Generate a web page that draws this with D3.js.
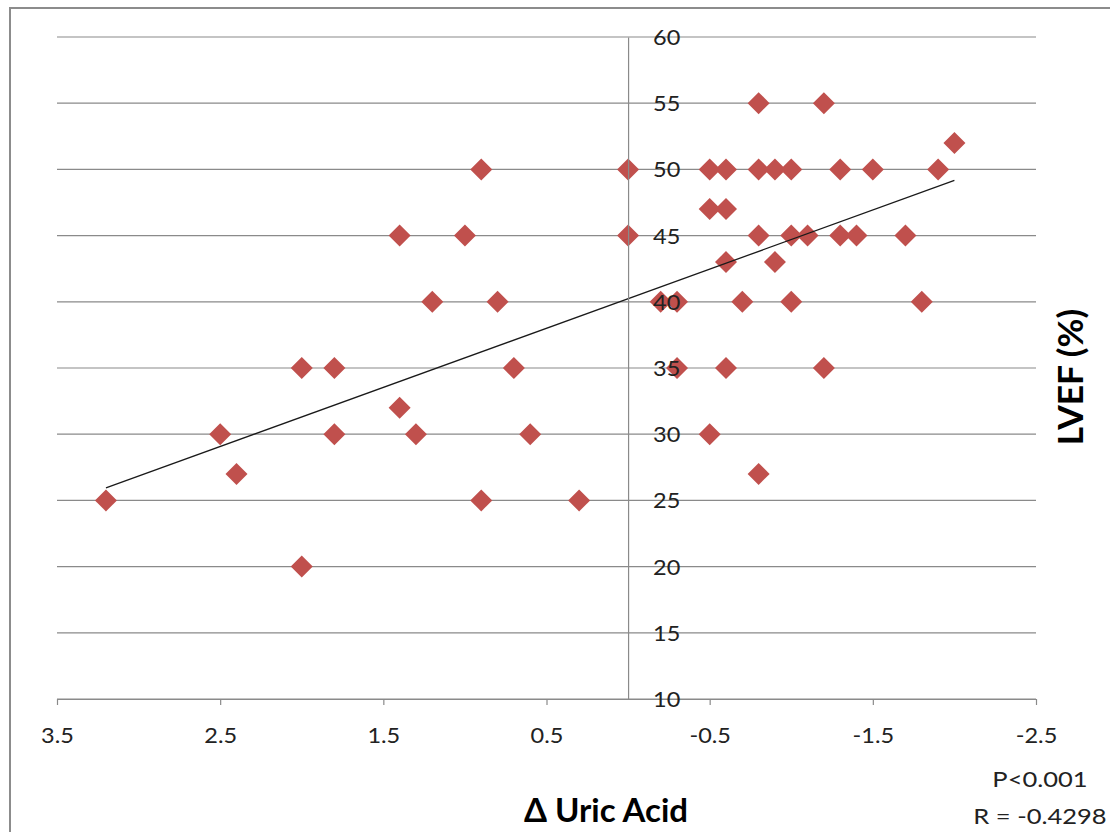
<!DOCTYPE html>
<html>
<head>
<meta charset="utf-8">
<script src="https://cdn.jsdelivr.net/npm/d3@7.9.0/dist/d3.min.js"></script>
<style>
  html, body { margin: 0; padding: 0; background: #fff; }
  svg { display: block; font-family: Lato, "Open Sans", sans-serif; }
</style>
</head>
<body>
<svg id="chart" width="1110" height="832"></svg>
<script>
// Δ uric acid (x) and LVEF % (y)
const uricDelta = [
  3.2, 2.5, 2.4, 2.0, 2.0, 1.8, 1.8, 1.4, 1.4, 1.3, 1.2, 1.0, 0.9, 0.9, 0.8, 0.7, 0.6, 0.3,
  0, 0, -0.2, -0.3, -0.3, -0.5, -0.5, -0.5, -0.6, -0.6, -0.6, -0.6, -0.7,
  -0.8, -0.8, -0.8, -0.8, -0.9, -0.9, -1.0, -1.0, -1.0, -1.1, -1.2, -1.2,
  -1.3, -1.3, -1.4, -1.5, -1.7, -1.8, -1.9, -2.0
];
const lvef = [
  25, 30, 27, 35, 20, 35, 30, 45, 32, 30, 40, 45, 50, 25, 40, 35, 30, 25,
  50, 45, 40, 40, 35, 50, 47, 30, 50, 47, 43, 35, 40,
  55, 50, 45, 27, 50, 43, 50, 45, 40, 45, 55, 35,
  50, 45, 45, 50, 45, 40, 50, 52
];
const xTicks = [3.5, 2.5, 1.5, 0.5, -0.5, -1.5, -2.5];
const yTicks = [10, 15, 20, 25, 30, 35, 40, 45, 50, 55, 60];
const statLines = ["P<0.001", "R = -0.4298"];

const points = uricDelta.map((d, i) => ({ x: d, y: lvef[i] }));

const svg = d3.select("#chart");
const x = d3.scaleLinear().domain([3.5, -2.5]).range([57, 1036]);
const y = d3.scaleLinear().domain([10, 60]).range([699, 37]);

const gridColor = "#8a8a8a";
const textColor = "#222";
// the source chart's text is a little wider than Lato, so stretch it sideways
const tickStretch = 1.12;

// chart frame (only top and left edges are inside the picture)
svg.append("path")
  .attr("d", "M10,1000V8H1200")
  .attr("fill", "none")
  .attr("stroke", "#8c8c8c")
  .attr("stroke-width", 2);

// horizontal gridlines
svg.append("g")
  .selectAll("line")
  .data(yTicks)
  .join("line")
  .attr("x1", x(3.5))
  .attr("x2", x(-2.5))
  .attr("y1", (d) => y(d))
  .attr("y2", (d) => y(d))
  .attr("stroke", gridColor)
  .attr("stroke-width", 1.2);

// x axis along the bottom
const xAxis = svg.append("g")
  .attr("transform", `translate(0,${y(10)})`)
  .call(d3.axisBottom(x).tickValues(xTicks).tickSize(6).tickSizeOuter(0)
    .tickFormat((d) => d.toFixed(1)));
xAxis.select(".domain").attr("stroke", gridColor).attr("stroke-width", 1.2);
xAxis.selectAll(".tick line").attr("stroke", gridColor).attr("stroke-width", 1.2);
xAxis.selectAll(".tick text")
  .attr("x", 0)
  .attr("y", 0)
  .attr("dy", null)
  .attr("transform", `translate(0,44) scale(${tickStretch},1)`)
  .attr("fill", textColor)
  .style("font-size", "21px")
  .style("font-family", "Lato, 'Open Sans', sans-serif");

// vertical axis crossing at x = 0
const yAxis = svg.append("g")
  .attr("transform", `translate(${x(0)},0)`)
  .call(d3.axisRight(y).tickValues(yTicks).tickSize(0).tickSizeOuter(0));
yAxis.select(".domain").attr("stroke", gridColor).attr("stroke-width", 1.2);

// markers
const diamond = d3.symbol().type(d3.symbolSquare).size(242);
svg.append("g")
  .selectAll("path")
  .data(points)
  .join("path")
  .attr("d", diamond)
  .attr("transform", (d) => `translate(${x(d.x)},${y(d.y)}) rotate(45)`)
  .attr("fill", "#C0504D");

// linear trend line (least squares)
const mx = d3.mean(points, (d) => d.x);
const my = d3.mean(points, (d) => d.y);
const sxy = d3.sum(points, (d) => (d.x - mx) * (d.y - my));
const sxx = d3.sum(points, (d) => (d.x - mx) ** 2);
const slope = sxy / sxx;
const intercept = my - slope * mx;
const [xMin, xMax] = d3.extent(points, (d) => d.x);
svg.append("line")
  .attr("x1", x(xMax))
  .attr("y1", y(intercept + slope * xMax))
  .attr("x2", x(xMin))
  .attr("y2", y(intercept + slope * xMin))
  .attr("stroke", "#1a1a1a")
  .attr("stroke-width", 1.3);

// y tick labels drawn on top of the markers
yAxis.raise();
yAxis.selectAll(".tick text")
  .attr("x", 0)
  .attr("dy", "0.36em")
  .attr("text-anchor", "start")
  .attr("transform", `translate(25,0) scale(${tickStretch},1)`)
  .attr("fill", textColor)
  .style("font-size", "21px")
  .style("font-family", "Lato, 'Open Sans', sans-serif");

// axis titles
svg.append("text")
  .attr("x", 606)
  .attr("y", 822)
  .attr("text-anchor", "middle")
  .attr("fill", "#000")
  .style("font-size", "33px")
  .style("font-weight", "bold")
  .text("Δ Uric Acid");

svg.append("text")
  .attr("transform", "translate(1083,377) rotate(-90) scale(1.04,1)")
  .attr("text-anchor", "middle")
  .attr("fill", "#000")
  .style("font-size", "34px")
  .style("font-weight", "bold")
  .text("LVEF (%)");

// statistics note
svg.append("g")
  .selectAll("text")
  .data(statLines)
  .join("text")
  .attr("transform", (d, i) => `translate(1040,${787 + i * 37}) scale(1.16,1)`)
  .attr("text-anchor", "middle")
  .attr("fill", textColor)
  .style("font-size", "22px")
  .text((d) => d);
</script>
</body>
</html>
